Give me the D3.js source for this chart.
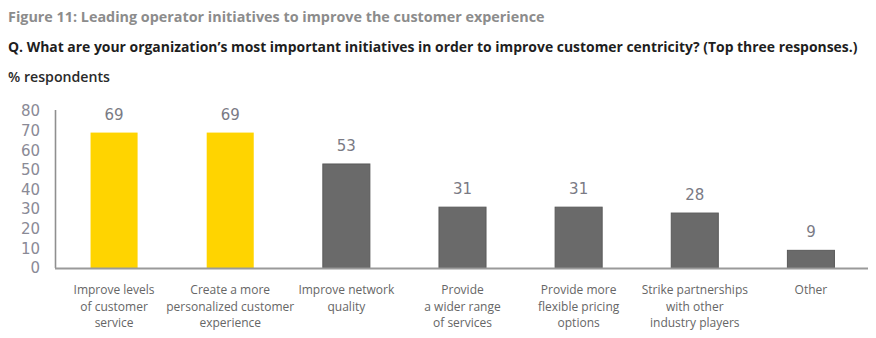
<!DOCTYPE html>
<html>
<head>
<meta charset="utf-8">
<script src="https://cdn.jsdelivr.net/npm/d3@7"></script>
<style>
  html, body { margin: 0; padding: 0; background: #fff; }
  svg { display: block; }
</style>
</head>
<body>
<svg id="chart" width="876" height="338"></svg>
<script>
// Survey results: share of respondents naming each initiative in their top three
const categories = [
  ["Improve levels", "of customer", "service"],
  ["Create a more", "personalized customer", "experience"],
  ["Improve network", "quality"],
  ["Provide", "a wider range", "of services"],
  ["Provide more", "flexible pricing", "options"],
  ["Strike partnerships", "with other", "industry players"],
  ["Other"]
];
const values = [69, 69, 53, 31, 31, 28, 9];
const highlighted = [true, true, false, false, false, false, false];
const yTicks = [0, 10, 20, 30, 40, 50, 60, 70, 80];

const titleText = "Figure 11: Leading operator initiatives to improve the customer experience";
const questionText = "Q. What are your organization\u2019s most important initiatives in order to improve customer centricity? (Top three responses.)";
const unitText = "% respondents";

const svg = d3.select("#chart");
const sans = "'Open Sans', 'Noto Sans', sans-serif";
const numFont = "'DejaVu Sans', Verdana, sans-serif";

// Header text, sized to its measured width
function fitText(sel, width) {
  const w = sel.node().getComputedTextLength();
  const fs = parseFloat(sel.attr("font-size"));
  sel.attr("font-size", fs * width / w);
}
fitText(svg.append("text").attr("x", 8).attr("y", 22)
  .attr("font-family", sans).attr("font-weight", 700).attr("font-size", 14)
  .attr("fill", "#8c8c8c").text(titleText), 537);
fitText(svg.append("text").attr("x", 8).attr("y", 52)
  .attr("font-family", sans).attr("font-weight", 700).attr("font-size", 14)
  .attr("fill", "#1e1e1e").text(questionText), 850);
fitText(svg.append("text").attr("x", 8).attr("y", 82)
  .attr("font-family", sans).attr("font-weight", 600).attr("font-size", 12)
  .attr("fill", "#2a2a2a").text(unitText), 102);

// Scales
const x = d3.scaleBand()
  .domain(d3.range(values.length))
  .range([56, 869])
  .paddingInner(0.595)
  .paddingOuter(0.2975);
const y = d3.scaleLinear().domain([0, 80]).range([268, 111]);

// Y axis: tick labels only, plus a plain vertical rule
const yAxis = svg.append("g")
  .attr("transform", "translate(55,0)")
  .call(d3.axisLeft(y).tickValues(yTicks).tickSize(0).tickPadding(15));
yAxis.select(".domain").remove();
yAxis.selectAll("text")
  .attr("font-family", numFont).attr("font-size", 15)
  .attr("fill", "#8a8a96");

svg.append("line")
  .attr("x1", 55.5).attr("x2", 55.5)
  .attr("y1", y(80) - 1).attr("y2", y(0))
  .attr("stroke", "#8f8f8f").attr("stroke-width", 1.6);

// Bars
svg.append("g").selectAll("rect")
  .data(values)
  .join("rect")
  .attr("x", (d, i) => x(i))
  .attr("width", x.bandwidth())
  .attr("y", d => y(d))
  .attr("height", d => y(0) - y(d))
  .attr("fill", (d, i) => highlighted[i] ? "#ffd400" : "#6a6a6a")
  .attr("stroke", (d, i) => highlighted[i] ? "none" : "#5a5a5a")
  .attr("stroke-width", 1);

// Value labels above bars
svg.append("g").selectAll("text")
  .data(values)
  .join("text")
  .attr("x", (d, i) => x(i) + x.bandwidth() / 2)
  .attr("y", d => y(d) - 13)
  .attr("text-anchor", "middle")
  .attr("font-family", numFont).attr("font-size", 15)
  .attr("fill", "#7a7a84")
  .text(d => d);

// Baseline
svg.append("line")
  .attr("x1", 55).attr("x2", 868)
  .attr("y1", y(0) + 0.5).attr("y2", y(0) + 0.5)
  .attr("stroke", "#9a9a9a").attr("stroke-width", 2);

// Category labels below the baseline
const xAxis = svg.append("g");
categories.forEach((lines, i) => {
  const t = xAxis.append("text")
    .attr("x", x(i) + x.bandwidth() / 2)
    .attr("y", 294)
    .attr("text-anchor", "middle")
    .attr("font-family", sans).attr("font-size", 12)
    .attr("fill", "#666");
  lines.forEach((ln, j) => {
    t.append("tspan")
      .attr("x", x(i) + x.bandwidth() / 2)
      .attr("dy", j === 0 ? 0 : 16.5)
      .text(ln);
  });
});
</script>
</body>
</html>
